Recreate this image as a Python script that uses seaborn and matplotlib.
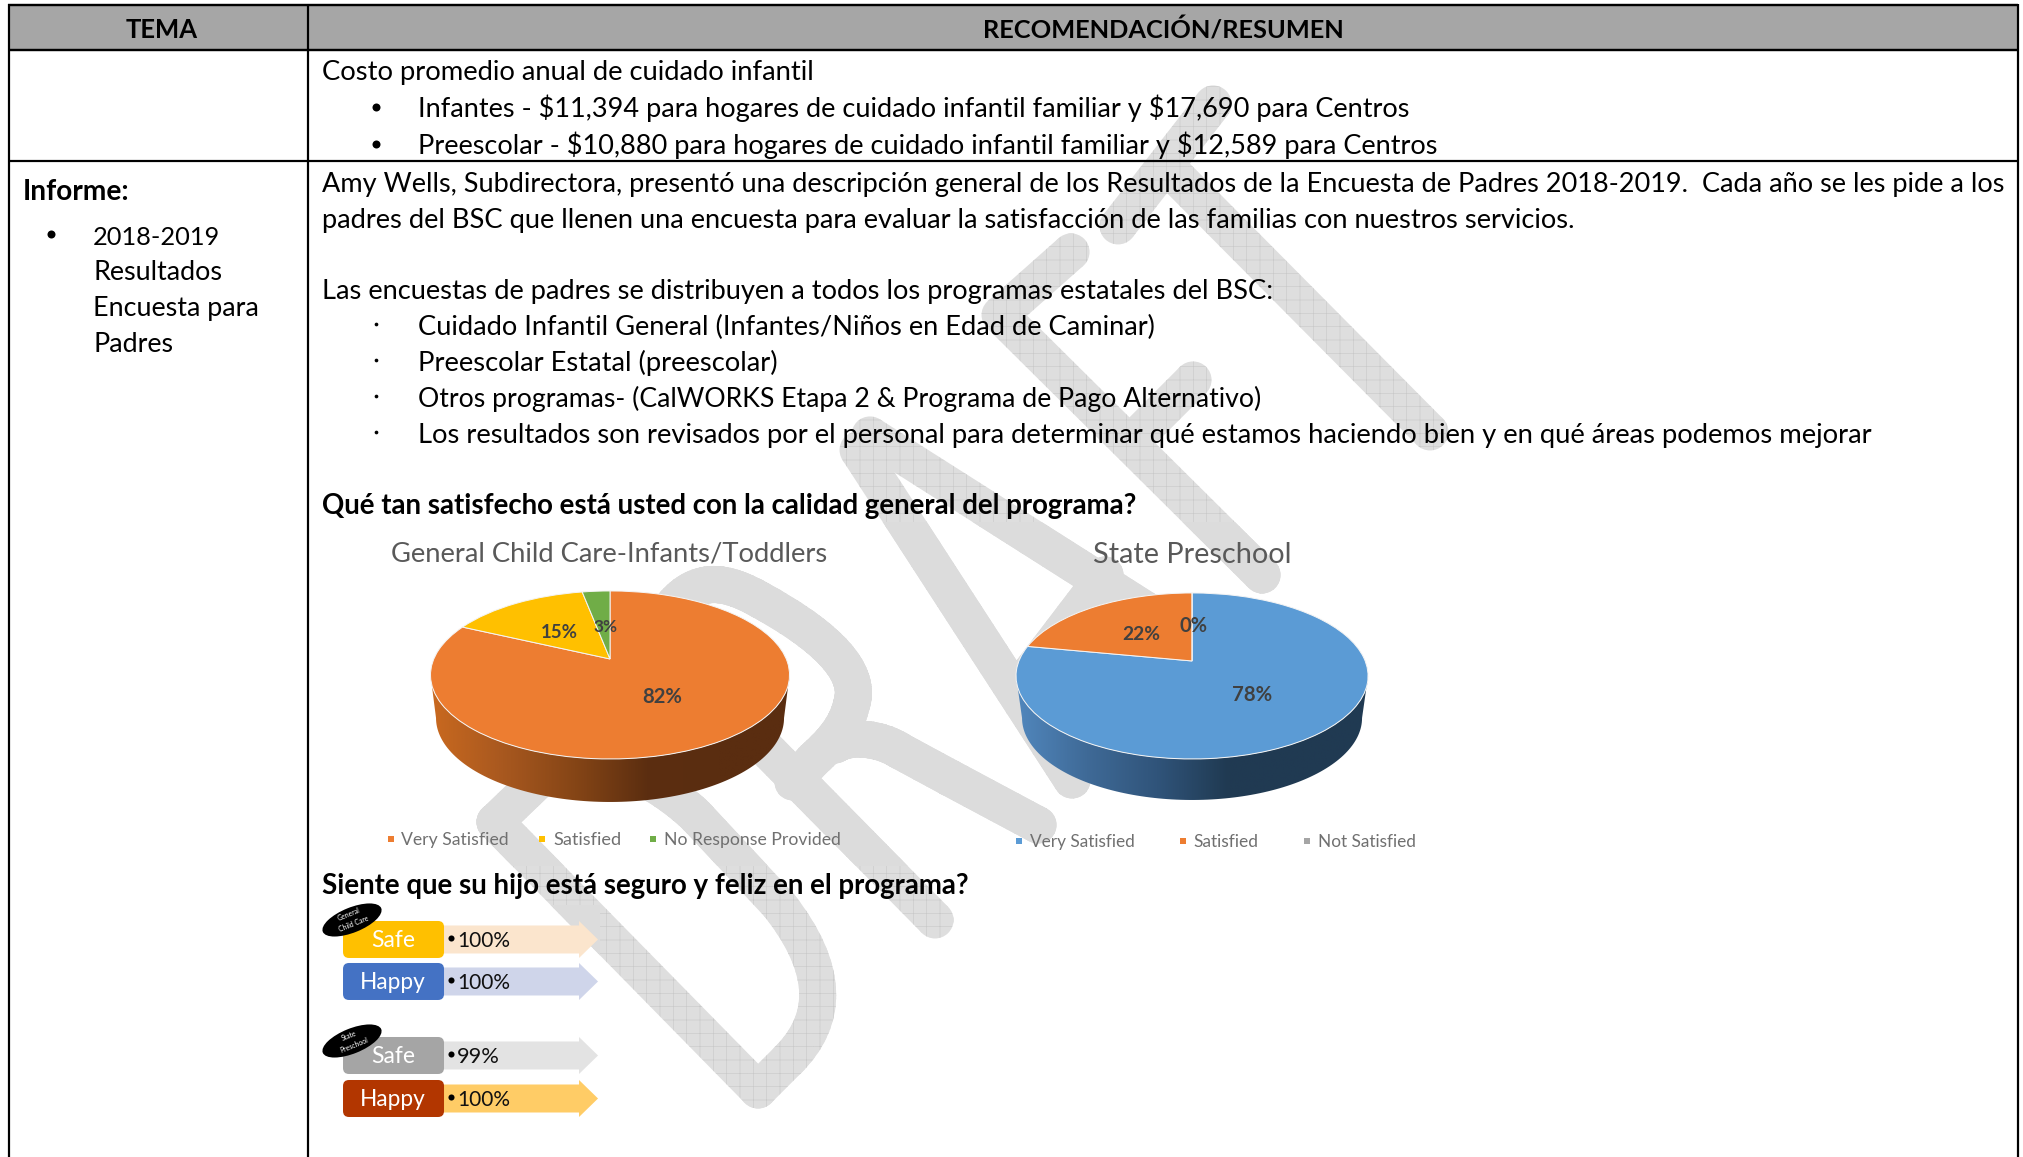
import numpy as np
import matplotlib
matplotlib.use("Agg")
import matplotlib.pyplot as plt
import matplotlib.transforms as mtransforms
from matplotlib.patches import Polygon, FancyBboxPatch, Ellipse, Circle
from matplotlib.path import Path
import seaborn as sns

# chart values
pie_labels_left = ["Very Satisfied", "Satisfied", "No Response Provided"]
pie_values_left = [82, 15, 3]
pie_colors_left = ["#ed7d31", "#ffc000", "#70ad47"]
pie_labels_right = ["Very Satisfied", "Satisfied", "Not Satisfied"]
pie_values_right = [78, 22, 0]
pie_colors_right = ["#5b9bd5", "#ed7d31", "#a5a5a5"]

arrow_names = ["Safe", "Happy", "Safe", "Happy"]
arrow_values = [100, 100, 99, 100]
arrow_button_colors = ["#ffc000", "#4472c4", "#a5a5a5", "#b23600"]
arrow_body_colors = ["#fbe5cd", "#cfd5ea", "#e3e3e3", "#ffcc66"]
arrow_tops = [921, 963, 1037, 1080]
arrow_text_ends = [510, 510, 500, 510]

# (x, baseline, text, x end)
body_lines = [
    (322, 79.5, "Costo promedio anual de cuidado infantil", 814),
    (418, 116.5, "Infantes - $11,394 para hogares de cuidado infantil familiar y $17,690 para Centros", 1406),
    (418, 154, "Preescolar - $10,880 para hogares de cuidado infantil familiar y $12,589 para Centros", 1433),
    (322, 191.5, "Amy Wells, Subdirectora, presentó una descripción general de los Resultados de la Encuesta de Padres 2018-2019.  Cada año se les pide a los", 2001),
    (322, 227.5, "padres del BSC que llenen una encuesta para evaluar la satisfacción de las familias con nuestros servicios.", 1577),
    (322, 298.5, "Las encuestas de padres se distribuyen a todos los programas estatales del BSC:", 1270),
    (418, 334.5, "Cuidado Infantil General (Infantes/Niños en Edad de Caminar)", 1155),
    (418, 370.5, "Preescolar Estatal (preescolar)", 779),
    (418, 406.5, "Otros programas- (CalWORKS Etapa 2 & Programa de Pago Alternativo)", 1266),
    (418, 442.5, "Los resultados son revisados por el personal para determinar qué estamos haciendo bien y en qué áreas podemos mejorar", 1877),
    (93, 244.5, "2018-2019", 220),
    (93, 280, "Resultados", 222),
    (93, 316, "Encuesta para", 259),
    (93, 352, "Padres", 173),
]
bold_lines = [
    (23, 199.5, "Informe:", 129),
    (322, 513.5, "Qué tan satisfecho está usted con la calidad general del programa?", 1137),
    (322, 893.5, "Siente que su hijo está seguro y feliz en el programa?", 968),
]

W, H = 2023, 1157
DPI = 80
BAND = 18.5  # half width of the watermark strokes


class PieTilt(mtransforms.Transform):
    # perspective view of the unit circle, pixels out
    input_dims = 2
    output_dims = 2

    def __init__(self, cx, cy, a, b, k):
        super().__init__()
        self.cx, self.cy, self.a, self.b, self.k = cx, cy, a, b, k

    def transform_non_affine(self, values):
        values = np.asarray(values, dtype=float)
        w = 1 + self.k * values[:, 1]
        return np.column_stack([self.cx + self.b * values[:, 0] / w,
                                self.cy - self.a * values[:, 1] / w])


sns.set_theme(style="white")
plt.rcParams["font.family"] = ["Lato", "DejaVu Sans"]
plt.rcParams["hatch.linewidth"] = 0.55

fig = plt.figure(figsize=(W / DPI + 0.001, H / DPI + 0.001), dpi=DPI, facecolor="white")
ax = fig.add_axes([0, 0, 1, 1])
ax.axis("off")
renderer = fig.canvas.get_renderer()


def fit_text(x, y, s, x_end, size=20, ha="left", **kw):
    # scale the font so the string spans the same width as in the source
    kw.setdefault("zorder", 8)
    kw.setdefault("va", "baseline")
    t = ax.text(x, y, s, fontsize=size, ha=ha, parse_math=False, **kw)
    # hinting is not linear with size, so measure a few times
    for _ in range(3):
        width = t.get_window_extent(renderer).width
        t.set_fontsize(t.get_fontsize() * (x_end - x) / width)
    return t


# --- watermark ---
def curve(*items):
    verts, codes = [items[0]], [Path.MOVETO]
    for item in items[1:]:
        if len(item) == 3:
            verts.extend(item)
            codes.extend([Path.CURVE4] * 3)
        else:
            verts.append(item)
            codes.append(Path.LINETO)
    return Path(verts, codes).to_polygons(closed_only=False)[0]


strokes = [
    # D
    np.array([(495, 822), (758, 1090)]),
    curve((758, 1090), (788, 1060), ((828, 1020), (830, 970), (779, 905)), (697, 817),
          ((670, 790), (620, 760), (570, 750)), (495, 822)),
    # R
    np.array([(650, 631), (935, 920)]),
    curve((668, 612), ((695, 575), (725, 580), (760, 600)), ((815, 630), (858, 665), (853, 698)),
          ((848, 725), (835, 740), (813, 760)), (793, 782)),
    curve((835, 745), ((850, 735), (880, 738), (900, 751)), (950, 778), (1038, 825)),
    # A
    np.array([(858, 450), (1072, 780)]),
    np.array([(870, 435), (1185, 635)]),
    np.array([(1025, 680), (1105, 575)]),
    # F
    np.array([(1071, 252), (1000, 315), (1262, 575)]),
    np.array([(1193, 380), (1130, 443)]),
    # T
    np.array([(1172, 172), (1430, 432)]),
    np.array([(1118, 226), (1213, 104)]),
]
picture_areas = Path.make_compound_path(
    Path([(325, 522), (1470, 522), (1470, 866), (325, 866), (325, 522)], closed=True),
    Path([(320, 905), (600, 905), (600, 1145), (320, 1145), (320, 905)], closed=True),
)


def stroke_parts(pts):
    pts = np.asarray(pts, dtype=float)
    parts = [Circle(tuple(p), BAND) for p in pts]
    for p, q in zip(pts[:-1], pts[1:]):
        d = q - p
        n = np.array([-d[1], d[0]]) / np.hypot(*d) * BAND
        parts.append(Polygon([p + n, q + n, q - n, p - n], closed=True))
    return parts


for pts in strokes:
    for part in stroke_parts(pts):
        part.set(facecolor="#dedede", edgecolor="#c9c9c9", hatch="+", linewidth=0, zorder=1)
        ax.add_patch(part)
for pts in strokes:
    for part in stroke_parts(pts):
        part.set(facecolor="#dcdcdc", edgecolor="none", linewidth=0, zorder=1.5)
        ax.add_patch(part)
        part.set_clip_path(picture_areas, transform=ax.transData)

# --- table ---
ax.fill_between([8, 2018], 5, 50, color="#a6a6a6", linewidth=0, zorder=0.5)
for y, x0, x1, lw in [(5, 8, 2018, 2.4), (50.5, 8, 2018, 2.4), (161.5, 8, 2018, 2.2)]:
    ax.plot([x0, x1], [y, y], color="black", lw=lw * 72 / DPI, solid_capstyle="butt", zorder=3)
for x in [8.5, 308, 2018]:
    ax.plot([x, x], [4, H], color="black", lw=2.2 * 72 / DPI, solid_capstyle="butt", zorder=3)

fit_text(126, 38, "TEMA", 198, fontweight="bold", color="black")
fit_text(983, 38, "RECOMENDACIÓN/RESUMEN", 1343, fontweight="bold", color="black")
for x, y, s, x_end in body_lines:
    fit_text(x, y, s, x_end, color="black")
for x, y, s, x_end in bold_lines:
    fit_text(x, y, s, x_end, fontweight="bold", color="black")

ax.scatter([376, 376, 51], [107, 144, 234], s=52, color="black", linewidths=0, zorder=8)
ax.scatter([376] * 4, [324, 360, 396, 432], s=11, color="black", linewidths=0, zorder=8)


# --- pies ---
def draw_pie(values, colors, cx, top, apex, bottom, rx, side_rx, side_cy, side_bottom, side_colors):
    dt, db = apex - top, bottom - apex
    k = (db - dt) / (db + dt)
    a = dt * (1 + k)
    b = rx * np.sqrt(1 - k ** 2)
    wedges, _ = ax.pie(values, colors=colors, startangle=90, counterclock=False, frame=True,
                       wedgeprops={"edgecolor": "#f4f4f4", "linewidth": 0.9})
    tilt = PieTilt(cx, apex, a, b, k)
    for w in wedges:
        w.set_transform(tilt + ax.transData)
        w.set_zorder(5)

    # gradient wall below the rim
    ecy = (top + bottom) / 2
    ry = (bottom - top) / 2
    t = np.linspace(np.pi, 2 * np.pi, 120)
    rim = np.column_stack([cx + rx * np.cos(t), ecy - ry * np.sin(t)])
    base = np.column_stack([cx + side_rx * np.cos(t), side_cy - (side_bottom - side_cy) * np.sin(t)])
    wall = Polygon(np.vstack([rim, base[::-1]]), closed=True, transform=ax.transData)
    cmap = sns.blend_palette(side_colors, as_cmap=True)
    im = ax.imshow(np.linspace(0, 1, 256).reshape(1, -1), cmap=cmap, aspect="auto",
                   extent=(cx - rx, cx + rx, side_bottom, top), zorder=4)
    im.set_clip_path(wall)


draw_pie(pie_values_left, pie_colors_left, 610, 591, 659, 759, 179.5, 174, 718, 802,
         ["#c9691f", "#a8581f", "#854516", "#5c2e10", "#5a2d10", "#5a2d10"])
draw_pie(pie_values_right, pie_colors_right, 1192, 593, 661, 759, 176, 170, 718, 800,
         ["#5187bd", "#3f6a97", "#30547a", "#203a52", "#203a52", "#203a52"])

fit_text(391, 561, "General Child Care-Infants/Toddlers", 827, color="#595959")
fit_text(1093, 563, "State Preschool", 1292, color="#595959")

for v, x, y, x_end in zip(pie_values_left, [642, 541, 593], [703, 638, 632], [682, 578, 617]):
    fit_text(x, y, f"{v}%", x_end, color="#404040", fontweight="bold", zorder=7)
for v, x, y, x_end in zip(pie_values_right, [1232, 1122, 1179], [701, 640, 632], [1272, 1160, 1207]):
    fit_text(x, y, f"{v}%", x_end, color="#404040", fontweight="bold", zorder=7)

legend_left = ([391, 542, 653], [401, 553, 664], [509, 621, 840], 845)
legend_right = ([1019, 1183, 1307], [1030, 1193, 1318], [1135, 1258, 1416], 847)
for names, cols, (marks, starts, ends, base) in [(pie_labels_left, pie_colors_left, legend_left),
                                                  (pie_labels_right, pie_colors_right, legend_right)]:
    ax.scatter(marks, [base - 6] * 3, marker="s", s=24, c=cols, linewidths=0, zorder=7)
    for name, x, x_end in zip(names, starts, ends):
        fit_text(x, base, name, x_end, color="#707070")

# --- arrows ---
for name, val, c_btn, c_body, top, x_end in zip(arrow_names, arrow_values, arrow_button_colors,
                                                 arrow_body_colors, arrow_tops, arrow_text_ends):
    mid = top + 18.5
    arrow = [(440, top + 4.5), (579, top + 4.5), (579, top), (598, mid), (579, top + 37),
             (579, top + 32.5), (440, top + 32.5)]
    ax.add_patch(Polygon(arrow, closed=True, facecolor=c_body, edgecolor="none", zorder=5))
    ax.add_patch(FancyBboxPatch((347, top + 4), 93, 29, boxstyle="round,pad=4,rounding_size=6",
                                facecolor=c_btn, edgecolor="none", zorder=6))
    half = 22 if name == "Safe" else 33
    fit_text(393 - half, top + 26, name, 393 + half, color="white", zorder=7)
    ax.scatter([451], [mid - 1], s=30, color="black", linewidths=0, zorder=7)
    fit_text(457, top + 26, f"{val}%", x_end, color="#111111", zorder=7)

for cy, first, second in [(920, "General", "Child Care"), (1041, "State", "Preschool")]:
    ax.add_patch(Ellipse((352, cy), 63, 25, angle=-22, facecolor="black", edgecolor="none", zorder=7))
    ax.text(349, cy - 5.5, first, color="white", fontsize=6.2, rotation=22, ha="center", va="center", zorder=8)
    ax.text(354, cy + 4, second, color="white", fontsize=6.2, rotation=22, ha="center", va="center", zorder=8)

ax.set_aspect("auto")
ax.set_xlim(0, W)
ax.set_ylim(H, 0)
ax.set_frame_on(False)
ax.set_xticks([])
ax.set_yticks([])

fig.savefig("out.png", dpi=DPI)
